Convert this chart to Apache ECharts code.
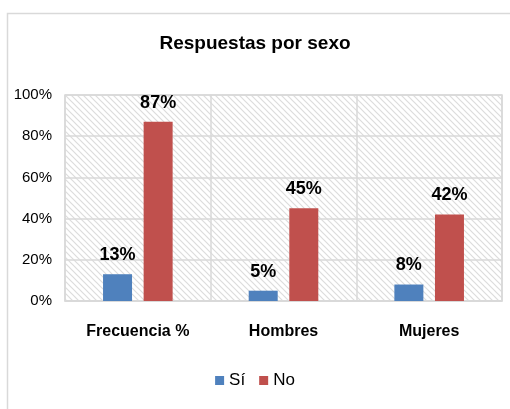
<html lang="es">
<head>
    <meta charset="UTF-8">
    <title>Respuestas por sexo</title>
    <script src="https://cdn.jsdelivr.net/npm/echarts@6/dist/echarts.min.js"></script>
</head>
<style>
    html, body { margin: 0; padding: 0; background: #fff; }
    #container { width: 510px; height: 409px; }
</style>
<body>
<div id="container"></div>
<script>
    // datos
    var categorias = ['Frecuencia %', 'Hombres', 'Mujeres'];
    var si = [13, 5, 8];
    var no = [87, 45, 42];
    var ticks = [0, 20, 40, 60, 80, 100];

    var fuente = "'Liberation Sans Narrow', 'Arial Narrow', 'Liberation Sans', sans-serif";

    // trama diagonal del fondo
    function trama() {
        var s = 6;
        var c = document.createElement('canvas');
        c.width = s; c.height = s;
        var ctx = c.getContext('2d');
        ctx.fillStyle = '#ffffff';
        ctx.fillRect(0, 0, s, s);
        ctx.strokeStyle = '#dcdcdc';
        ctx.lineWidth = 1.2;
        ctx.beginPath();
        ctx.moveTo(-1, -1); ctx.lineTo(s + 1, s + 1);
        ctx.moveTo(-1, s - 1); ctx.lineTo(1, s + 1);
        ctx.moveTo(s - 1, -1); ctx.lineTo(s + 1, 1);
        ctx.stroke();
        return {image: c, repeat: 'repeat'};
    }

    var chart = echarts.init(document.getElementById('container'));

    var etiqueta = {
        show: true,
        position: 'top',
        distance: 10,
        formatter: '{c}%',
        fontFamily: fuente,
        fontWeight: 'bold',
        fontSize: 18,
        color: '#000'
    };

    var option = {
        backgroundColor: '#fff',
        animation: false,
        title: {
            text: 'Respuestas por sexo',
            left: 'center',
            top: 29,
            textStyle: {fontFamily: fuente, fontWeight: 'bold', fontSize: 19, color: '#000'}
        },
        graphic: [{
            type: 'rect',
            shape: {x: 7.5, y: 13.5, width: 600, height: 500},
            style: {fill: 'none', stroke: '#d9d9d9', lineWidth: 1.5},
            silent: true
        }],
        legend: {
            data: ['Sí', 'No'],
            bottom: 15,
            left: 'center',
            icon: 'rect',
            itemWidth: 9,
            itemHeight: 9,
            itemGap: 14,
            textStyle: {fontFamily: fuente, fontSize: 17, color: '#000'}
        },
        grid: {
            left: 65,
            right: 8,
            top: 95,
            bottom: 108,
            show: true,
            backgroundColor: trama(),
            borderColor: '#d9d9d9',
            borderWidth: 1.5
        },
        xAxis: {
            type: 'category',
            data: categorias,
            axisLine: {lineStyle: {color: '#d9d9d9', width: 1.5}},
            axisTick: {show: false},
            splitLine: {show: true, lineStyle: {color: '#d9d9d9', width: 1.5}},
            axisLabel: {
                interval: 0,
                margin: 23,
                fontFamily: fuente,
                fontWeight: 'bold',
                fontSize: 16,
                color: '#000'
            }
        },
        yAxis: {
            type: 'value',
            min: ticks[0],
            max: ticks[ticks.length - 1],
            interval: 20,
            axisLine: {show: false},
            axisTick: {show: false},
            splitLine: {lineStyle: {color: '#d9d9d9', width: 1.5}},
            axisLabel: {
                margin: 13,
                formatter: '{value}%',
                fontFamily: fuente,
                fontSize: 15,
                color: '#000'
            }
        },
        series: [
            {
                name: 'Sí',
                type: 'bar',
                data: si,
                barWidth: 29,
                barGap: '40%',
                itemStyle: {color: '#4f81bd'},
                label: etiqueta
            },
            {
                name: 'No',
                type: 'bar',
                data: no,
                barWidth: 29,
                barGap: '40%',
                itemStyle: {color: '#c0504d'},
                label: etiqueta
            }
        ]
    };

    chart.setOption(option);
</script>
</body>
</html>
